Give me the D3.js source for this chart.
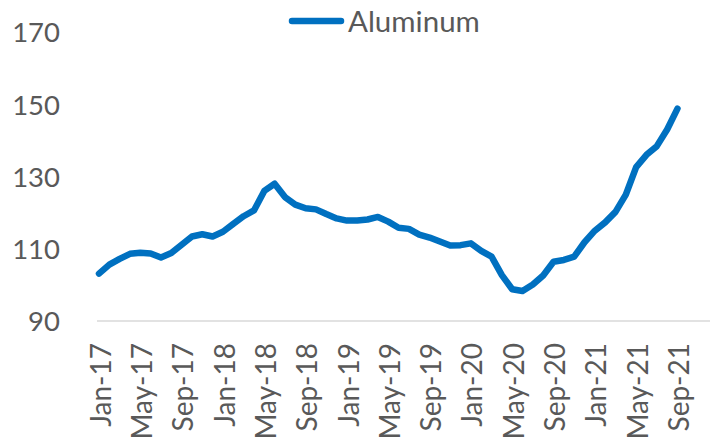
<!DOCTYPE html>
<html>
<head>
<meta charset="utf-8">
<script src="https://cdn.jsdelivr.net/npm/d3@7"></script>
<style>
  body { margin: 0; background: #fff; }
  svg { display: block; }
  text { font-family: Lato, "Open Sans", sans-serif; fill: #595959; }
</style>
</head>
<body>
<div id="chart"></div>
<script>
// monthly categories, Jan-17 .. Dec-21 (the series stops at Sep-21)
const months = d3.timeMonth.range(new Date(2017, 0, 1), new Date(2022, 0, 1));
const xLabels = ["Jan-17", "May-17", "Sep-17", "Jan-18", "May-18", "Sep-18", "Jan-19", "May-19",
  "Sep-19", "Jan-20", "May-20", "Sep-20", "Jan-21", "May-21", "Sep-21"];
const yTicks = [90, 110, 130, 150, 170];
const seriesName = "Aluminum";
const aluminum = [
  103.1, 105.6, 107.2, 108.6, 108.9, 108.7, 107.6, 108.8, 111.1, 113.4, 114.0, 113.4,
  114.7, 116.9, 119.0, 120.6, 126.0, 128.0, 124.3, 122.2, 121.2, 120.9, 119.6, 118.4,
  117.8, 117.8, 118.1, 118.8, 117.5, 115.8, 115.5, 113.9, 113.1, 112.0, 110.9, 111.0,
  111.5, 109.4, 107.8, 102.7, 98.8, 98.3, 100.1, 102.6, 106.4, 106.9, 107.8, 111.8,
  115.0, 117.3, 120.2, 125.0, 132.6, 136.0, 138.4, 143.0, 148.8
];

const width = 710, height = 441;
const fmt = d3.timeFormat("%b-%y");
const cats = months.map(fmt);

const svg = d3.select("#chart").append("svg")
  .attr("width", width)
  .attr("height", height);

const x = d3.scalePoint()
  .domain(cats)
  .range([99, 99 + 10.33 * (cats.length - 1)]);

const y = d3.scaleLinear()
  .domain([90, 170])
  .range([321, 32]);

// y axis: labels only
const yAxis = svg.append("g")
  .attr("transform", "translate(60,0)")
  .call(d3.axisLeft(y).tickValues(yTicks).tickSize(0).tickPadding(0))
  .attr("font-family", null)
  .attr("font-size", 27.5);
yAxis.select(".domain").remove();
yAxis.selectAll("text")
  .attr("dy", "0.36em");

// x axis
const xAxis = svg.append("g")
  .attr("transform", `translate(0,${y(90)})`)
  .call(d3.axisBottom(x).tickValues(xLabels).tickSize(0))
  .attr("font-family", null)
  .attr("font-size", 28);
xAxis.select(".domain")
  .attr("d", `M97,0H${width}`)
  .attr("stroke", "#d9d9d9")
  .attr("stroke-width", 1.5);
xAxis.selectAll("text")
  .attr("text-anchor", "end")
  .attr("transform", "rotate(-90)")
  .attr("x", -22)
  .attr("y", 1)
  .attr("dx", 0)
  .attr("dy", "0.36em");

// line
const line = d3.line()
  .x((d, i) => x(cats[i]))
  .y(d => y(d));

svg.append("path")
  .datum(aluminum)
  .attr("fill", "none")
  .attr("stroke", "#0070c0")
  .attr("stroke-width", 6.5)
  .attr("stroke-linejoin", "round")
  .attr("stroke-linecap", "round")
  .attr("d", line);

// legend
const legend = svg.append("g").attr("transform", "translate(0,21)");
legend.append("line")
  .attr("x1", 292).attr("x2", 341)
  .attr("stroke", "#0070c0")
  .attr("stroke-width", 6.5)
  .attr("stroke-linecap", "round");
legend.append("text")
  .attr("x", 348)
  .attr("dy", "0.36em")
  .attr("font-size", 29.5)
  .text(seriesName);
</script>
</body>
</html>
